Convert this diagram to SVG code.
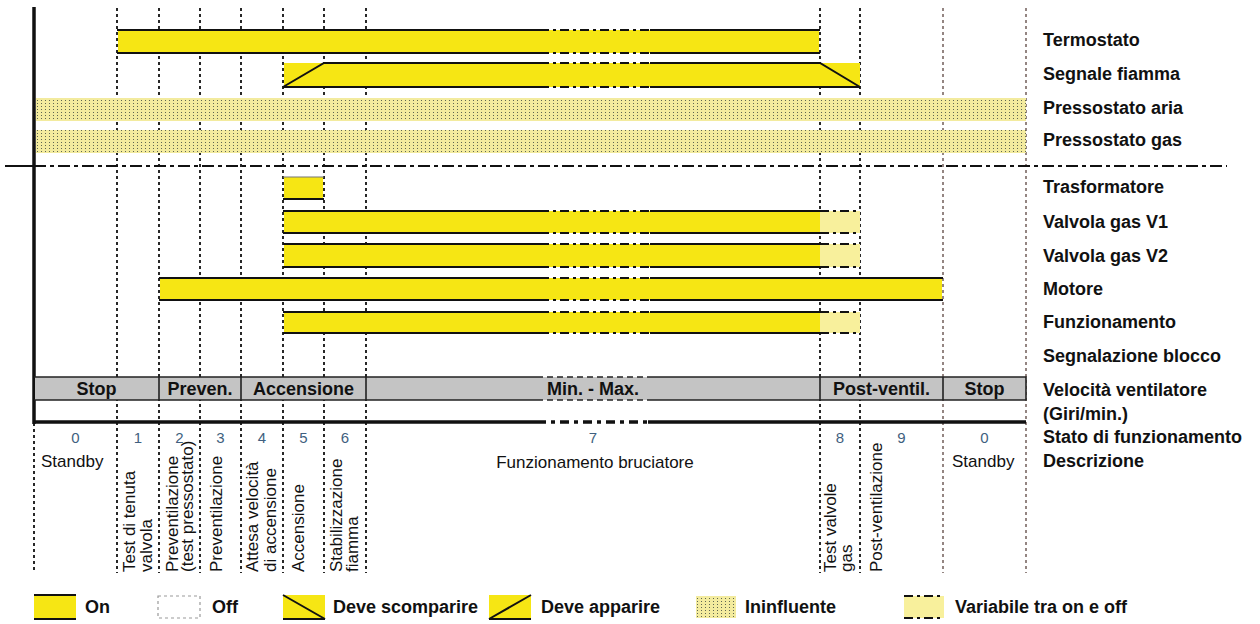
<svg xmlns="http://www.w3.org/2000/svg" width="1260" height="624" viewBox="0 0 1260 624">
<defs>
<pattern id="dots" width="4" height="3" patternUnits="userSpaceOnUse">
<rect width="4" height="3" fill="#f3eb9e"/>
<rect x="1" y="1" width="1" height="1" fill="#5f6650"/>
</pattern>
<style>
.grid{stroke:#111;stroke-width:1.8;stroke-dasharray:3 3;fill:none}
.grid2{stroke:#4e3530;stroke-width:1.2;stroke-dasharray:3 3;fill:none}
.y{fill:#f6e614}
.p{fill:#f8f09c}
.e{stroke:#111;stroke-width:2;fill:none}
.b{stroke:#111;stroke-width:2;fill:none;stroke-dasharray:9 4 3 4}
.lbl{font-family:"Liberation Sans",Arial,sans-serif;font-weight:bold;font-size:18px;fill:#111}
.t{font-family:"Liberation Sans",Arial,sans-serif;font-size:17px;fill:#111}
.n{font-family:"Liberation Sans",Arial,sans-serif;font-size:15px;fill:#3f5f80;text-anchor:middle}
.g{font-family:"Liberation Sans",Arial,sans-serif;font-weight:bold;font-size:18px;fill:#111;text-anchor:middle}
</style>
</defs>
<rect width="1260" height="624" fill="#fff"/>

<g id="gridlines">
<path class="grid" d="M117 8V573M159 8V573M200 8V573M241 8V573M283 8V573M324 8V573M366 8V573M820 8V573M860 8V573"/>
<path class="grid" d="M34 423V573"/>
<path class="grid2" d="M943 8V573M1026 8V573"/>
</g>

<g id="axis">
<path d="M34 7V424" stroke="#111" stroke-width="3.5"/>
<path d="M5 166H34" stroke="#111" stroke-width="2"/>
<path d="M34 166H1227" stroke="#111" stroke-width="2" stroke-dasharray="12 4 4 4"/>
</g>

<g id="termostato">
<rect class="y" x="118" y="30" width="701" height="23"/>
<path class="e" d="M117 30H540M650 30H820M117 53H540M650 53H820"/>
<path class="b" d="M540 30H650M540 53H650"/>
</g>

<g id="segnale-fiamma">
<rect class="y" x="284" y="63" width="576" height="24"/>
<path class="e" d="M283 87L324 63H540M650 63H820L860 87M283 87H540M650 87H860"/>
<path class="b" d="M540 63H650M540 87H650"/>
</g>

<g id="pressostato-aria">
<rect x="36" y="98" width="990" height="23" fill="url(#dots)"/>
</g>
<g id="pressostato-gas">
<rect x="36" y="130" width="990" height="23" fill="url(#dots)"/>
</g>

<g id="trasformatore">
<rect class="y" x="284" y="177" width="39" height="22"/>
<path d="M283 177H324" stroke="#777" stroke-width="1.2"/>
<path class="e" d="M283 199H324"/>
</g>

<g id="valvola-v1">
<rect class="y" x="284" y="211" width="536" height="22"/>
<rect class="p" x="820" y="211" width="40" height="22"/>
<path class="e" d="M283 211H540M650 211H820M283 233H540M650 233H820"/>
<path class="b" d="M540 211H650M540 233H650M820 211H860M820 233H860"/>
</g>

<g id="valvola-v2">
<rect class="y" x="284" y="244" width="536" height="23"/>
<rect class="p" x="820" y="244" width="40" height="23"/>
<path class="e" d="M283 244H540M650 244H820M283 267H540M650 267H820"/>
<path class="b" d="M540 244H650M540 267H650M820 244H860M820 267H860"/>
</g>

<g id="motore">
<rect class="y" x="160" y="278" width="782" height="22"/>
<path class="e" d="M159 278H540M650 278H943M159 300H540M650 300H943"/>
<path class="b" d="M540 278H650M540 300H650"/>
</g>

<g id="funzionamento">
<rect class="y" x="284" y="312" width="536" height="21"/>
<rect class="p" x="820" y="312" width="40" height="21"/>
<path class="e" d="M283 312H540M650 312H820M283 333H540M650 333H820"/>
<path class="b" d="M540 312H650M540 333H650M820 312H860M820 333H860"/>
</g>

<g id="velocita">
<rect x="35" y="377" width="991" height="23" fill="#c4c4c4"/>
<path d="M34 377H537M648 377H1026V400H648M537 400H34" stroke="#222" stroke-width="1.6" fill="none"/>
<path d="M537 377H648M537 400H648" stroke="#222" stroke-width="1.6" stroke-dasharray="6 4"/>
<path d="M159 377V400M241 377V400M366 377V400M820 377V400M943 377V400" stroke="#222" stroke-width="1.6"/>
<text class="g" x="96.5" y="395">Stop</text>
<text class="g" x="200" y="395">Preven.</text>
<text class="g" x="303.5" y="395">Accensione</text>
<text class="g" x="593" y="395">Min. - Max.</text>
<text class="g" x="881.5" y="395">Post-ventil.</text>
<text class="g" x="984.5" y="395">Stop</text>
</g>

<g id="stato-line">
<path d="M34 422H537M648 422H1026" stroke="#111" stroke-width="3.5"/>
<path d="M537 422H648" stroke="#111" stroke-width="3.5" stroke-dasharray="9 5 4 5"/>
</g>

<g id="stato-numeri">
<text class="n" x="75.5" y="443">0</text>
<text class="n" x="138" y="443">1</text>
<text class="n" x="179.5" y="443">2</text>
<text class="n" x="220.5" y="443">3</text>
<text class="n" x="262" y="443">4</text>
<text class="n" x="303.5" y="443">5</text>
<text class="n" x="345" y="443">6</text>
<text class="n" x="593" y="443">7</text>
<text class="n" x="840" y="443">8</text>
<text class="n" x="901.5" y="443">9</text>
<text class="n" x="984.5" y="443">0</text>
</g>

<g id="descrizioni">
<text class="t" x="41" y="467">Standby</text>
<text class="t" x="595" y="468" text-anchor="middle">Funzionamento bruciatore</text>
<text class="t" x="952" y="467">Standby</text>
<text class="t" transform="translate(135 572) rotate(-90)">Test di tenuta</text>
<text class="t" transform="translate(152 572) rotate(-90)">valvola</text>
<text class="t" transform="translate(178 572) rotate(-90)">Preventilazione</text>
<text class="t" transform="translate(193 572) rotate(-90)">(test pressostato)</text>
<text class="t" transform="translate(221.5 572) rotate(-90)">Preventilazione</text>
<text class="t" transform="translate(258 572) rotate(-90)">Attesa velocità</text>
<text class="t" transform="translate(276 572) rotate(-90)">di accensione</text>
<text class="t" transform="translate(304 572) rotate(-90)">Accensione</text>
<text class="t" transform="translate(341.5 572) rotate(-90)">Stabilizzazione</text>
<text class="t" transform="translate(358 572) rotate(-90)">fiamma</text>
<text class="t" transform="translate(836 572) rotate(-90)">Test valvole</text>
<text class="t" transform="translate(852 572) rotate(-90)">gas</text>
<text class="t" transform="translate(882 572) rotate(-90)">Post-ventilazione</text>
</g>

<g id="etichette">
<text class="lbl" x="1043" y="46">Termostato</text>
<text class="lbl" x="1043" y="80">Segnale fiamma</text>
<text class="lbl" x="1043" y="114">Pressostato aria</text>
<text class="lbl" x="1043" y="146">Pressostato gas</text>
<text class="lbl" x="1043" y="193">Trasformatore</text>
<text class="lbl" x="1043" y="228">Valvola gas V1</text>
<text class="lbl" x="1043" y="262">Valvola gas V2</text>
<text class="lbl" x="1043" y="295">Motore</text>
<text class="lbl" x="1043" y="328">Funzionamento</text>
<text class="lbl" x="1043" y="362">Segnalazione blocco</text>
<text class="lbl" x="1043" y="396">Velocità ventilatore</text>
<text class="lbl" x="1043" y="420">(Giri/min.)</text>
<text class="lbl" x="1043" y="443">Stato di funzionamento</text>
<text class="lbl" x="1043" y="467">Descrizione</text>
</g>

<g id="legenda">
<rect class="y" x="34" y="595" width="42" height="24"/>
<path class="e" d="M34 595H76M34 619H76"/>
<text class="lbl" x="85" y="613">On</text>
<rect x="158" y="596" width="42" height="22" fill="none" stroke="#999" stroke-width="1.2" stroke-dasharray="3 3"/>
<text class="lbl" x="212" y="613">Off</text>
<rect class="y" x="283" y="595" width="42" height="24"/>
<path class="e" d="M283 595L325 619M283 619H325"/>
<text class="lbl" x="333" y="613">Deve scomparire</text>
<rect class="y" x="489" y="595" width="42" height="24"/>
<path class="e" d="M489 619L531 595M489 619H531"/>
<text class="lbl" x="541" y="613">Deve apparire</text>
<rect x="696" y="596" width="40" height="22" fill="url(#dots)"/>
<text class="lbl" x="745" y="613">Ininfluente</text>
<rect class="p" x="904" y="596" width="40" height="22"/>
<path class="b" d="M904 596H944M904 618H944"/>
<text class="lbl" x="955" y="613">Variabile tra on e off</text>
</g>
</svg>
